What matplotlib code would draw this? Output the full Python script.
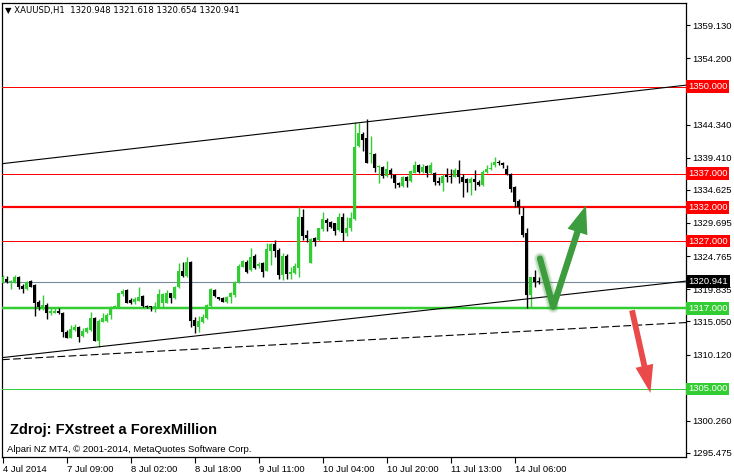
import matplotlib
matplotlib.use("Agg")
import matplotlib.pyplot as plt
from matplotlib.patches import FancyArrowPatch
import numpy as np

# ---------------- data ----------------
opens = [1320.94, 1321.34, 1320.85, 1320.80, 1321.69, 1320.35, 1319.80, 1321.04, 1320.50, 1317.97,
         1316.98, 1317.47, 1316.33, 1316.33, 1316.63, 1316.33, 1313.51, 1312.61, 1313.75, 1314.20,
         1312.86, 1313.51, 1313.75, 1315.59, 1312.12, 1314.99, 1315.14, 1315.99, 1317.08, 1317.13,
         1319.11, 1319.71, 1318.22, 1317.87, 1318.12, 1318.81, 1317.33, 1317.28, 1317.13, 1317.23,
         1317.72, 1317.82, 1319.21, 1318.47, 1320.10, 1322.58, 1321.79, 1323.92, 1315.24, 1314.25,
         1314.99, 1315.49, 1317.33, 1319.71, 1318.61, 1318.47, 1317.97, 1318.61, 1318.96, 1320.95,
         1323.18, 1323.82, 1322.68, 1324.82, 1323.28, 1323.68, 1322.58, 1325.56, 1326.55, 1325.66,
         1321.94, 1324.82, 1322.09, 1322.19, 1322.93, 1330.62, 1327.89, 1323.77, 1327.39, 1327.15,
         1328.74, 1330.12, 1329.87, 1329.63, 1328.64, 1330.62, 1328.14, 1328.88, 1330.22, 1341.14,
         1342.87, 1342.27, 1339.89, 1339.94, 1337.96, 1338.06, 1336.67, 1337.56, 1336.82, 1335.68,
         1335.18, 1336.47, 1335.98, 1337.17, 1338.31, 1337.32, 1338.16, 1337.07, 1337.17, 1335.98,
         1335.58, 1336.82, 1336.67, 1336.57, 1337.56, 1336.47, 1336.17, 1335.68, 1336.17, 1335.83,
         1335.33, 1337.32, 1337.66, 1338.31, 1338.80, 1338.65, 1337.66, 1336.97, 1334.98, 1333.00,
         1330.72, 1328.14, 1318.96, 1321.59, 1320.948]
highs = [1321.94, 1321.79, 1321.19, 1321.89, 1321.79, 1320.55, 1321.09, 1321.19, 1320.60, 1318.22,
         1318.96, 1317.72, 1317.23, 1316.98, 1316.98, 1316.43, 1313.75, 1314.50, 1314.65, 1314.35,
         1314.00, 1314.15, 1316.48, 1315.74, 1315.44, 1316.23, 1316.33, 1317.33, 1317.47, 1319.31,
         1319.85, 1319.85, 1318.47, 1318.71, 1320.10, 1318.96, 1317.42, 1317.33, 1317.97, 1319.80,
         1319.21, 1319.71, 1319.31, 1320.30, 1323.77, 1323.92, 1324.57, 1324.02, 1315.74, 1315.84,
         1316.08, 1317.62, 1319.95, 1319.90, 1318.71, 1318.61, 1318.81, 1319.46, 1321.00, 1323.53,
         1324.17, 1324.17, 1325.91, 1325.06, 1323.92, 1323.92, 1326.65, 1326.65, 1327.15, 1325.91,
         1325.16, 1325.06, 1323.18, 1323.68, 1332.01, 1331.71, 1328.64, 1327.39, 1327.64, 1328.98,
         1331.36, 1330.37, 1330.02, 1329.73, 1331.12, 1331.12, 1330.52, 1331.36, 1344.76, 1344.51,
         1343.27, 1345.10, 1342.62, 1340.04, 1338.31, 1338.16, 1338.90, 1337.81, 1336.97, 1335.83,
         1336.67, 1336.67, 1337.56, 1338.90, 1338.46, 1338.46, 1338.26, 1338.80, 1337.32, 1336.57,
         1336.97, 1337.81, 1337.66, 1337.81, 1339.05, 1336.97, 1336.32, 1336.57, 1337.56, 1336.07,
         1337.56, 1338.31, 1338.80, 1339.55, 1339.05, 1338.80, 1338.31, 1337.07, 1335.18, 1333.20,
         1332.01, 1328.88, 1321.69, 1322.68, 1321.618]
lows = [1320.70, 1320.70, 1319.80, 1320.70, 1319.80, 1319.31, 1319.71, 1320.10, 1315.89, 1316.73,
        1316.73, 1315.34, 1315.99, 1316.23, 1316.13, 1312.76, 1312.51, 1312.51, 1313.65, 1312.02,
        1312.76, 1313.26, 1313.65, 1312.07, 1311.27, 1314.89, 1314.99, 1315.39, 1316.98, 1316.98,
        1318.81, 1317.72, 1317.62, 1317.62, 1318.02, 1317.23, 1317.08, 1316.63, 1316.48, 1317.13,
        1317.13, 1317.72, 1317.82, 1318.32, 1319.95, 1321.69, 1321.69, 1314.25, 1313.26, 1313.51,
        1314.85, 1315.39, 1317.23, 1318.71, 1318.22, 1317.92, 1317.82, 1317.72, 1318.71, 1320.80,
        1323.08, 1322.19, 1322.58, 1322.83, 1322.93, 1321.59, 1322.54, 1323.43, 1324.67, 1321.30,
        1321.20, 1321.30, 1321.30, 1322.09, 1321.59, 1327.15, 1326.90, 1323.68, 1326.30, 1327.05,
        1328.54, 1328.54, 1328.98, 1327.89, 1328.54, 1327.05, 1327.79, 1328.54, 1330.12, 1341.04,
        1340.44, 1338.56, 1338.56, 1337.32, 1335.68, 1336.32, 1336.57, 1336.42, 1334.84, 1334.98,
        1334.98, 1335.08, 1335.83, 1337.07, 1337.17, 1337.17, 1336.47, 1336.97, 1335.33, 1335.33,
        1334.49, 1335.83, 1335.58, 1336.47, 1335.58, 1333.50, 1334.34, 1333.85, 1334.59, 1335.18,
        1335.18, 1337.17, 1337.56, 1338.06, 1338.31, 1337.81, 1336.82, 1334.34, 1332.11, 1331.02,
        1327.54, 1316.98, 1317.23, 1320.20, 1320.654]
closes = [1321.69, 1320.85, 1321.04, 1321.69, 1320.20, 1319.85, 1320.89, 1320.20, 1317.82, 1317.23,
          1317.47, 1316.33, 1316.63, 1316.63, 1316.23, 1313.51, 1312.61, 1313.90, 1314.20, 1312.76,
          1313.65, 1314.00, 1315.59, 1312.17, 1315.14, 1315.49, 1315.99, 1317.08, 1317.33, 1319.21,
          1319.61, 1317.82, 1317.82, 1318.32, 1318.71, 1317.33, 1317.13, 1317.18, 1317.33, 1319.06,
          1319.06, 1319.21, 1318.47, 1320.10, 1322.58, 1321.79, 1323.92, 1315.14, 1314.35, 1315.14,
          1315.74, 1317.47, 1319.80, 1318.81, 1318.32, 1317.97, 1318.71, 1319.21, 1320.95, 1323.33,
          1324.02, 1322.44, 1324.67, 1322.93, 1323.53, 1322.44, 1325.81, 1326.55, 1325.56, 1321.94,
          1324.82, 1322.09, 1322.44, 1323.33, 1330.62, 1327.74, 1327.39, 1327.30, 1326.90, 1328.88,
          1330.27, 1329.63, 1329.13, 1328.54, 1330.62, 1328.14, 1328.98, 1330.37, 1341.04, 1343.02,
          1342.03, 1338.65, 1340.04, 1337.81, 1338.06, 1336.67, 1337.66, 1336.97, 1335.58, 1335.33,
          1336.47, 1335.98, 1337.46, 1338.31, 1337.32, 1338.06, 1337.17, 1338.31, 1335.83, 1335.58,
          1336.67, 1336.57, 1336.57, 1337.56, 1336.47, 1335.83, 1335.68, 1336.17, 1335.83, 1335.33,
          1337.32, 1337.66, 1337.91, 1338.80, 1338.56, 1338.31, 1336.97, 1334.69, 1332.85, 1332.01,
          1327.89, 1318.96, 1321.59, 1320.95, 1320.941]

x_tick_bars = [0, 16, 32, 48, 64, 80, 96, 112, 128]
x_tick_labels = ["4 Jul 2014", "7 Jul 09:00", "8 Jul 02:00", "8 Jul 18:00", "9 Jul 11:00",
                 "10 Jul 04:00", "10 Jul 20:00", "11 Jul 13:00", "14 Jul 06:00"]
y_ticks = [1359.130, 1354.200, 1349.270, 1344.340, 1339.410, 1334.625, 1329.695, 1324.765,
           1319.835, 1315.050, 1310.120, 1305.190, 1300.260, 1295.475]
# tick values whose labels sit under a price box (not readable in the chart)
y_ticks_hidden = [1349.270, 1305.190]

resistance_levels = [1350.0, 1337.0, 1332.0, 1327.0]
resistance_widths = [1.0, 1.0, 2.2, 1.0]
support_levels = [1317.0, 1305.0]
support_widths = [2.5, 1.0]
bid_price = 1320.941

upper_trend = ([0, 170], [1338.53, 1350.15])
lower_trend = ([0, 170], [1309.67, 1320.99])
dashed_trend = ([0, 170], [1309.36, 1314.85])

green_arrow = ([134.3, 137.6, 145.8], [1324.4, 1317.2, 1332.3])
red_arrow = ([157.3, 161.9], [1316.7, 1304.4])

header = "\u25BC XAUUSD,H1  1320.948 1321.618 1320.654 1320.941"
source_text = "Zdroj: FXstreet a ForexMillion"
copyright_text = "Alpari NZ MT4, \u00A9 2001-2014, MetaQuotes Software Corp."

# ---------------- figure ----------------
W, H = 734, 475
fig = plt.figure(figsize=(W / 100, H / 100), dpi=100)
fig.patch.set_facecolor("white")
ax = fig.add_axes([2 / W, (H - 457) / H, 684 / W, 454 / H])
ax.set_facecolor("white")
FONT = "Liberation Sans"
FS = 6.8

n = len(opens)
idx = np.arange(n)
o = np.array(opens); c = np.array(closes); h = np.array(highs); l = np.array(lows)
up = c >= o
BULL = "#32CD32"
BEAR = "#000000"
colors = np.where(up, BULL, BEAR)

ax.vlines(idx, l, h, colors=colors, linewidth=1.0, zorder=4)
body_bottom = np.minimum(o, c)
body_h = np.maximum(np.abs(c - o), 0.16)
ax.bar(idx, body_h, bottom=body_bottom, width=0.72, color=colors, linewidth=0, zorder=5)

# horizontal levels
for lvl, lw in zip(resistance_levels, resistance_widths):
    ax.axhline(lvl, color="#ff0000", linewidth=lw * 0.72, zorder=3)
for lvl, lw in zip(support_levels, support_widths):
    ax.axhline(lvl, color=BULL, linewidth=lw * 0.72, zorder=3)
ax.axhline(bid_price, color="#778899", linewidth=0.8, zorder=3)

# trend lines
ax.axline((upper_trend[0][0], upper_trend[1][0]), (upper_trend[0][1], upper_trend[1][1]),
          color="black", linewidth=0.8, zorder=6)
ax.axline((lower_trend[0][0], lower_trend[1][0]), (lower_trend[0][1], lower_trend[1][1]),
          color="black", linewidth=0.8, zorder=6)
ax.axline((dashed_trend[0][0], dashed_trend[1][0]), (dashed_trend[0][1], dashed_trend[1][1]),
          color="black", linewidth=0.8, linestyle=(0, (7, 3)), zorder=6)

# arrows
ga_x, ga_y = green_arrow
for lw, a in [(9, 0.12), (7, 0.25)]:
    ax.plot(ga_x[:2], ga_y[:2], color="#3a9a3a", linewidth=lw, alpha=a,
            solid_capstyle="round", zorder=7)
ax.plot(ga_x[:2], ga_y[:2], color="#3d9c3d", linewidth=4.5, solid_capstyle="round", zorder=8)
ax.add_patch(FancyArrowPatch((ga_x[1], ga_y[1]), (ga_x[2], ga_y[2]),
                             arrowstyle="simple,head_length=2.0,head_width=1.5,tail_width=0.46",
                             mutation_scale=10, color="#3d9c3d", linewidth=0, zorder=8,
                             shrinkA=0, shrinkB=0))
ra_x, ra_y = red_arrow
ax.add_patch(FancyArrowPatch((ra_x[0], ra_y[0]), (ra_x[1], ra_y[1]),
                             arrowstyle="simple,head_length=2.0,head_width=1.3,tail_width=0.42",
                             mutation_scale=10, color="#ea4a4a", linewidth=0, zorder=8,
                             shrinkA=0, shrinkB=0))

# axes limits / ticks
ax.set_xlim(-0.2, 170.8)
ax.set_ylim(1294.87, 1362.43)
ax.yaxis.tick_right()
ax.set_yticks(y_ticks)
ax.set_yticklabels(["" if v in y_ticks_hidden else f"{v:.3f}" for v in y_ticks],
                   fontfamily=FONT, fontsize=FS)
ax.tick_params(axis="y", direction="out", length=3, width=0.8, pad=1.2, colors="black")
ax.set_xticks(x_tick_bars)
ax.set_xticklabels(x_tick_labels, fontfamily=FONT, fontsize=FS, ha="left")
ax.tick_params(axis="x", direction="out", length=4, width=0.8, pad=1.5, colors="black")
for s in ax.spines.values():
    s.set_color("black")
    s.set_linewidth(0.9)

# price labels on right axis
def price_box(price, face, txt_color="white"):
    ax.annotate(f"{price:.3f}", xy=(1.0, price), xycoords=("axes fraction", "data"),
                xytext=(1.5, 0), textcoords="offset points", va="center", ha="left",
                fontfamily=FONT, fontsize=FS, color=txt_color, zorder=20, annotation_clip=False,
                bbox=dict(boxstyle="square,pad=0.2", fc=face, ec="none"))

for lvl in resistance_levels:
    price_box(lvl, "#ff0000")
for lvl in support_levels:
    price_box(lvl, BULL)
price_box(bid_price, "#000000")

# texts
fig.text(5 / W, 1 - 11 / H, header, fontfamily=["DejaVu Sans"], fontsize=6.1,
         va="center", ha="left", color="black")
fig.text(10 / W, 1 - 430 / H, source_text, fontfamily=FONT, fontweight="bold",
         fontsize=10.5, va="center", ha="left", color="black")
fig.text(7 / W, 1 - 450 / H, copyright_text, fontfamily=FONT, fontsize=FS,
         va="center", ha="left", color="black")

fig.savefig("out.png", dpi=100, facecolor="white")
